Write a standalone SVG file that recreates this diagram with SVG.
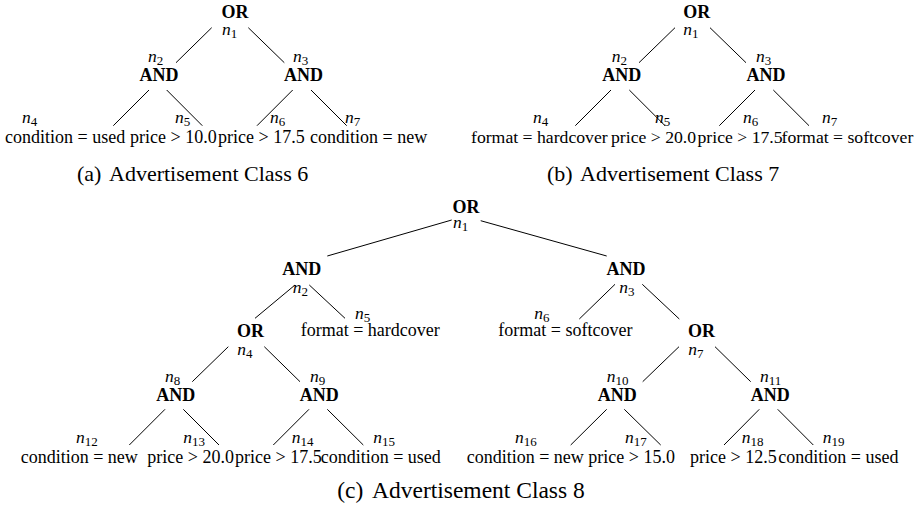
<svg xmlns="http://www.w3.org/2000/svg" width="915" height="509" viewBox="0 0 915 509">
<style>
.op{font-family:"Liberation Serif",serif;font-weight:bold;font-size:18px;text-anchor:middle;fill:#000}
.lf{font-family:"Liberation Serif",serif;font-size:18px;fill:#000}
.lfb{font-family:"Liberation Serif",serif;font-size:17.7px;fill:#000}
.lb{font-family:"Liberation Serif",serif;font-style:italic;font-size:17.5px;fill:#000}
.sb{font-style:normal;font-size:13px}
.cap{font-family:"Liberation Serif",serif;font-size:22px;fill:#000}
.capc{font-family:"Liberation Serif",serif;font-size:23.5px;fill:#000}
.e line{stroke:#000;stroke-width:1}
</style>
<rect width="915" height="509" fill="#fff"/>
<g id="connectors" class="e">
<line x1="211.7" y1="27.7" x2="176" y2="62.7"/>
<line x1="248.3" y1="27.7" x2="284.3" y2="62.7"/>
<line x1="149" y1="90" x2="113.3" y2="125.7"/>
<line x1="166.7" y1="90" x2="202.3" y2="125.7"/>
<line x1="292.7" y1="90" x2="257" y2="125.7"/>
<line x1="311" y1="90" x2="346.7" y2="125.7"/>
<line x1="675" y1="27.7" x2="639" y2="62.7"/>
<line x1="710" y1="27.7" x2="746" y2="62.7"/>
<line x1="611" y1="90" x2="575.3" y2="125.7"/>
<line x1="629.3" y1="90" x2="665" y2="125.7"/>
<line x1="755" y1="90" x2="719.3" y2="125.7"/>
<line x1="773.3" y1="90" x2="809" y2="125.7"/>
<line x1="451.7" y1="220" x2="327.3" y2="256"/>
<line x1="480.7" y1="220.7" x2="606.7" y2="256"/>
<line x1="295" y1="285" x2="255" y2="318.3"/>
<line x1="309.3" y1="285" x2="345" y2="318.3"/>
<line x1="615" y1="284.3" x2="579.3" y2="319"/>
<line x1="642.3" y1="284.3" x2="679.3" y2="319"/>
<line x1="228.3" y1="346.7" x2="192.3" y2="381.7"/>
<line x1="264.3" y1="346.7" x2="300" y2="381.7"/>
<line x1="679" y1="346.7" x2="642.7" y2="381.7"/>
<line x1="715" y1="346.7" x2="750.7" y2="381.7"/>
<line x1="165" y1="409.3" x2="129.3" y2="445"/>
<line x1="183.3" y1="409.3" x2="219" y2="445"/>
<line x1="309" y1="409.3" x2="273.3" y2="445"/>
<line x1="327.3" y1="409.3" x2="363.3" y2="445"/>
<line x1="606.7" y1="409.3" x2="570.7" y2="445"/>
<line x1="624.3" y1="409.3" x2="660.7" y2="445"/>
<line x1="759.3" y1="409.3" x2="724" y2="445"/>
<line x1="777.7" y1="409.3" x2="813.3" y2="445"/>
</g>
<!-- tree (a) -->
<g id="a-n1"><text class="op" x="235" y="18.3">OR</text><text class="lb" x="222" y="35">n<tspan class="sb" dy="3">1</tspan></text></g>
<g id="a-n2"><text class="lb" x="148" y="62">n<tspan class="sb" dy="3">2</tspan></text><text class="op" x="159" y="81">AND</text></g>
<g id="a-n3"><text class="lb" x="293" y="62">n<tspan class="sb" dy="3">3</tspan></text><text class="op" x="303.5" y="81">AND</text></g>
<g id="a-n4"><text class="lb" x="22" y="123.3">n<tspan class="sb" dy="3">4</tspan></text><text class="lf" x="5" y="143">condition = used</text></g>
<g id="a-n5"><text class="lb" x="175" y="123.3">n<tspan class="sb" dy="3">5</tspan></text><text class="lf" x="130" y="143">price &gt; 10.0</text></g>
<g id="a-n6"><text class="lb" x="270" y="123.3">n<tspan class="sb" dy="3">6</tspan></text><text class="lf" x="218" y="143">price &gt; 17.5</text></g>
<g id="a-n7"><text class="lb" x="345" y="123.3">n<tspan class="sb" dy="3">7</tspan></text><text class="lf" x="310" y="143">condition = new</text></g>
<text class="cap" x="77" y="181">(a)<tspan x="109">Advertisement Class 6</tspan></text>
<!-- tree (b) -->
<g id="b-n1"><text class="op" x="696.7" y="18.3">OR</text><text class="lb" x="683.3" y="35">n<tspan class="sb" dy="3">1</tspan></text></g>
<g id="b-n2"><text class="lb" x="611.7" y="62">n<tspan class="sb" dy="3">2</tspan></text><text class="op" x="621.8" y="81">AND</text></g>
<g id="b-n3"><text class="lb" x="756" y="62">n<tspan class="sb" dy="3">3</tspan></text><text class="op" x="766" y="81">AND</text></g>
<g id="b-n4"><text class="lb" x="533" y="123.3">n<tspan class="sb" dy="3">4</tspan></text><text class="lfb" x="471" y="143">format = hardcover</text></g>
<g id="b-n5"><text class="lb" x="655" y="123.3">n<tspan class="sb" dy="3">5</tspan></text><text class="lfb" x="611" y="143">price &gt; 20.0</text></g>
<g id="b-n6"><text class="lb" x="743" y="123.3">n<tspan class="sb" dy="3">6</tspan></text><text class="lfb" x="697.5" y="143">price &gt; 17.5</text></g>
<g id="b-n7"><text class="lb" x="822" y="123.3">n<tspan class="sb" dy="3">7</tspan></text><text class="lfb" x="781.5" y="143">format = softcover</text></g>
<text class="cap" x="547" y="181">(b)<tspan x="580">Advertisement Class 7</tspan></text>
<!-- tree (c) -->
<g id="c-n1"><text class="op" x="466" y="212.7">OR</text><text class="lb" x="453" y="228">n<tspan class="sb" dy="3">1</tspan></text></g>
<g id="c-n2"><text class="op" x="301.7" y="275">AND</text><text class="lb" x="292.7" y="293">n<tspan class="sb" dy="3">2</tspan></text></g>
<g id="c-n3"><text class="op" x="626" y="275">AND</text><text class="lb" x="619.3" y="293">n<tspan class="sb" dy="3">3</tspan></text></g>
<g id="c-n4"><text class="op" x="250.5" y="336.5">OR</text><text class="lb" x="237.3" y="355">n<tspan class="sb" dy="3">4</tspan></text></g>
<g id="c-n5"><text class="lb" x="355" y="319">n<tspan class="sb" dy="3">5</tspan></text><text class="lf" x="300.7" y="336">format = hardcover</text></g>
<g id="c-n6"><text class="lb" x="534.3" y="319">n<tspan class="sb" dy="3">6</tspan></text><text class="lf" x="498.3" y="336">format = softcover</text></g>
<g id="c-n7"><text class="op" x="701.5" y="336.5">OR</text><text class="lb" x="688.3" y="355">n<tspan class="sb" dy="3">7</tspan></text></g>
<g id="c-n8"><text class="lb" x="165" y="381.7">n<tspan class="sb" dy="3">8</tspan></text><text class="op" x="175.8" y="400.7">AND</text></g>
<g id="c-n9"><text class="lb" x="310" y="381.7">n<tspan class="sb" dy="3">9</tspan></text><text class="op" x="319.2" y="400.7">AND</text></g>
<g id="c-n10"><text class="lb" x="606.7" y="381.7">n<tspan class="sb" dy="3">10</tspan></text><text class="op" x="617.2" y="400.7">AND</text></g>
<g id="c-n11"><text class="lb" x="760" y="381.7">n<tspan class="sb" dy="3">11</tspan></text><text class="op" x="770.2" y="400.7">AND</text></g>
<g id="c-n12"><text class="lb" x="76" y="443">n<tspan class="sb" dy="3">12</tspan></text><text class="lf" x="20.7" y="462.7">condition = new</text></g>
<g id="c-n13"><text class="lb" x="183.3" y="443">n<tspan class="sb" dy="3">13</tspan></text><text class="lf" x="147.3" y="462.7">price &gt; 20.0</text></g>
<g id="c-n14"><text class="lb" x="291.7" y="443">n<tspan class="sb" dy="3">14</tspan></text><text class="lf" x="235" y="462.7">price &gt; 17.5</text></g>
<g id="c-n15"><text class="lb" x="373.3" y="443">n<tspan class="sb" dy="3">15</tspan></text><text class="lf" x="320.7" y="462.7">condition = used</text></g>
<g id="c-n16"><text class="lb" x="515" y="443">n<tspan class="sb" dy="3">16</tspan></text><text class="lf" x="466.7" y="462.7">condition = new</text></g>
<g id="c-n17"><text class="lb" x="625" y="443">n<tspan class="sb" dy="3">17</tspan></text><text class="lf" x="588.3" y="462.7">price &gt; 15.0</text></g>
<g id="c-n18"><text class="lb" x="741.7" y="443">n<tspan class="sb" dy="3">18</tspan></text><text class="lf" x="690" y="462.7">price &gt; 12.5</text></g>
<g id="c-n19"><text class="lb" x="822.7" y="443">n<tspan class="sb" dy="3">19</tspan></text><text class="lf" x="778.3" y="462.7">condition = used</text></g>
<text class="capc" x="337.3" y="498.3">(c)<tspan x="372">Advertisement Class 8</tspan></text>
</svg>
